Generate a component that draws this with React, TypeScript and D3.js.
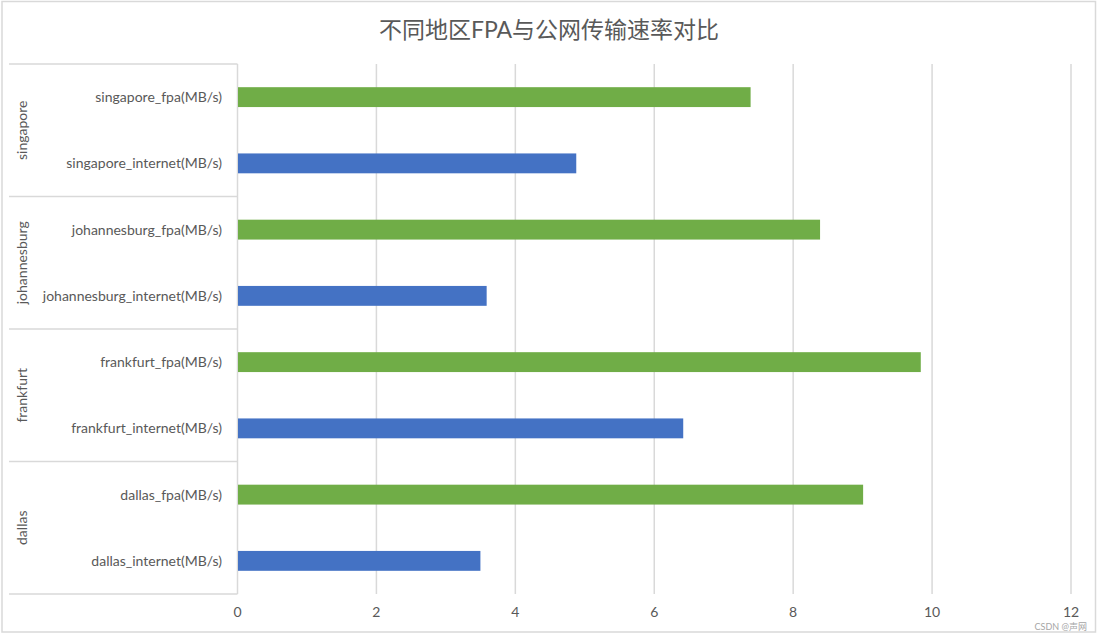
import React, { useRef, useEffect } from 'react';
import * as d3 from 'd3';

const regions = ['singapore', 'johannesburg', 'frankfurt', 'dallas'];
const metrics = ['fpa', 'internet'];
const fpaValues = [7.38, 8.38, 9.83, 9.0];
const internetValues = [4.87, 3.58, 6.41, 3.49];
const xTicks = [0, 2, 4, 6, 8, 10, 12];

const colors: Record<string, string> = { fpa: '#70AD47', internet: '#4472C4' };

interface Row {
  region: string;
  metric: string;
  label: string;
  value: number;
}

const rows: Row[] = regions.flatMap((region, i) =>
  metrics.map(metric => ({
    region,
    metric,
    label: `${region}_${metric}(MB/s)`,
    value: metric === 'fpa' ? fpaValues[i] : internetValues[i]
  }))
);

const WIDTH = 1098;
const HEIGHT = 634;
const FONT = 'Lato, "Noto Sans CJK SC", sans-serif';

const App: React.FC = () => {
  const svgRef = useRef<SVGSVGElement>(null);

  useEffect(() => {
    if (!svgRef.current) return;
    const svg = d3.select(svgRef.current);
    svg.selectAll('*').remove();

    const plot = { left: 237.5, right: 1071, top: 64, bottom: 594 };

    // outer frame
    svg.append('rect')
      .attr('x', 2).attr('y', 1.5)
      .attr('width', WIDTH - 4.5).attr('height', HEIGHT - 3.5)
      .attr('fill', '#fff')
      .attr('stroke', '#d9d9d9')
      .attr('stroke-width', 1.5);

    // title
    svg.append('text')
      .attr('x', WIDTH / 2)
      .attr('y', 38)
      .attr('text-anchor', 'middle')
      .attr('fill', '#595959')
      .style('font-family', FONT)
      .style('font-size', '23px')
      .text('不同地区FPA与公网传输速率对比');

    // scales
    const xScale = d3.scaleLinear()
      .domain([0, 12])
      .range([plot.left, plot.right]);

    const yScale = d3.scaleBand<string>()
      .domain(rows.map(d => d.label))
      .range([plot.top, plot.bottom])
      .paddingInner(0.7)
      .paddingOuter(0.35);

    const groupScale = d3.scaleBand<string>()
      .domain(regions)
      .range([plot.top, plot.bottom]);

    // vertical grid
    svg.append('g')
      .selectAll('line')
      .data(xTicks)
      .join('line')
      .attr('x1', d => xScale(d))
      .attr('x2', d => xScale(d))
      .attr('y1', plot.top)
      .attr('y2', plot.bottom)
      .attr('stroke', '#d9d9d9')
      .attr('stroke-width', 1.5);

    // category axis lines
    svg.append('g')
      .selectAll('line')
      .data([...regions.map(r => groupScale(r) as number), plot.bottom])
      .join('line')
      .attr('x1', 9)
      .attr('x2', plot.left)
      .attr('y1', d => d)
      .attr('y2', d => d)
      .attr('stroke', '#d9d9d9')
      .attr('stroke-width', 1.5);

    // bars
    svg.append('g')
      .selectAll('rect')
      .data(rows)
      .join('rect')
      .attr('x', xScale(0) + 0.5)
      .attr('y', d => yScale(d.label) as number)
      .attr('width', d => xScale(d.value) - xScale(0))
      .attr('height', yScale.bandwidth())
      .attr('fill', d => colors[d.metric]);

    // category labels
    svg.append('g')
      .selectAll('text')
      .data(rows)
      .join('text')
      .attr('x', 222)
      .attr('y', d => (yScale(d.label) as number) + yScale.bandwidth() / 2)
      .attr('dy', '0.35em')
      .attr('text-anchor', 'end')
      .attr('fill', '#595959')
      .style('font-family', FONT)
      .style('font-size', '14px')
      .text(d => d.label);

    // group labels
    svg.append('g')
      .selectAll('text')
      .data(regions)
      .join('text')
      .attr('transform', d => `translate(22,${(groupScale(d) as number) + groupScale.bandwidth() / 2}) rotate(-90)`)
      .attr('dy', '0.35em')
      .attr('text-anchor', 'middle')
      .attr('fill', '#595959')
      .style('font-family', FONT)
      .style('font-size', '14px')
      .text(d => d);

    // x tick labels
    svg.append('g')
      .selectAll('text')
      .data(xTicks)
      .join('text')
      .attr('x', d => xScale(d))
      .attr('y', 612)
      .attr('dy', '0.35em')
      .attr('text-anchor', 'middle')
      .attr('fill', '#595959')
      .style('font-family', FONT)
      .style('font-size', '14px')
      .text(d => d);

    // watermark
    svg.append('text')
      .attr('x', 1087)
      .attr('y', 630)
      .attr('text-anchor', 'end')
      .attr('fill', '#a6a6a6')
      .style('font-family', FONT)
      .style('font-size', '9px')
      .text('CSDN @声网');
  }, []);

  return (
    <div style={{ position: 'fixed', left: 0, top: 0 }}>
      <svg ref={svgRef} width={WIDTH} height={HEIGHT}></svg>
    </div>
  );
};

export default App;
